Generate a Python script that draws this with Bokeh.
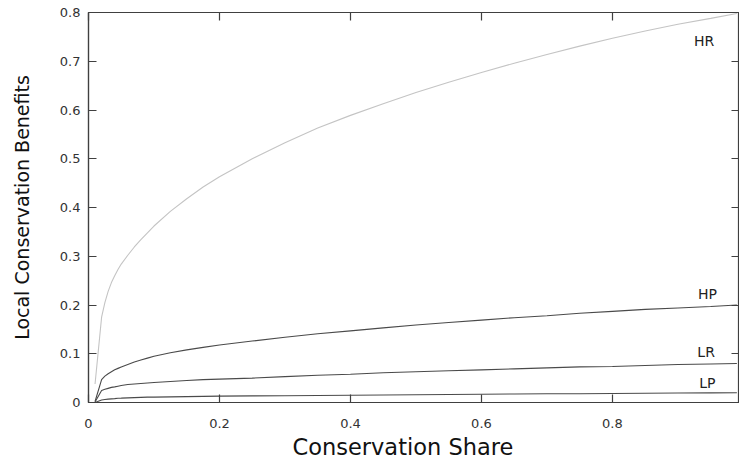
from bokeh.plotting import figure
from bokeh.models import Range1d, LinearAxis, FixedTicker, Label, Title
from bokeh.embed import file_html
from bokeh.resources import INLINE

# Data
share = [0.01, 0.02, 0.025, 0.03, 0.035, 0.04, 0.045, 0.05, 0.06, 0.07, 0.08, 0.09,
         0.1, 0.125, 0.15, 0.175, 0.2, 0.25, 0.3, 0.35, 0.4, 0.45, 0.5, 0.55, 0.6,
         0.65, 0.7, 0.75, 0.8, 0.85, 0.9, 0.95, 0.99]
hr = [0.038, 0.175, 0.205, 0.228, 0.246, 0.260, 0.273, 0.284, 0.302, 0.319, 0.334,
      0.348, 0.362, 0.392, 0.418, 0.442, 0.463, 0.500, 0.533, 0.563, 0.589, 0.613,
      0.636, 0.657, 0.677, 0.696, 0.714, 0.731, 0.747, 0.762, 0.776, 0.788, 0.798]
hp = [0.002, 0.047, 0.054, 0.059, 0.063, 0.067, 0.070, 0.073, 0.078, 0.083, 0.087,
      0.091, 0.095, 0.102, 0.108, 0.113, 0.118, 0.126, 0.134, 0.141, 0.147, 0.153,
      0.159, 0.164, 0.169, 0.174, 0.178, 0.183, 0.187, 0.191, 0.194, 0.197, 0.200]
lr = [0.001, 0.0245, 0.027, 0.029, 0.031, 0.032, 0.0335, 0.035, 0.037, 0.038, 0.039,
      0.040, 0.041, 0.043, 0.045, 0.047, 0.048, 0.050, 0.053, 0.056, 0.058, 0.061,
      0.063, 0.065, 0.067, 0.069, 0.071, 0.073, 0.074, 0.076, 0.078, 0.079, 0.080]
lp = [0.000, 0.005, 0.006, 0.007, 0.0075, 0.008, 0.0088, 0.009, 0.0095, 0.010, 0.0105,
      0.011, 0.011, 0.0115, 0.012, 0.0125, 0.013, 0.0135, 0.014, 0.0145, 0.015, 0.0155,
      0.016, 0.0165, 0.017, 0.0175, 0.018, 0.018, 0.0185, 0.019, 0.0195, 0.0198, 0.020]

series_names = ["HR", "HP", "LR", "LP"]
series_values = [hr, hp, lr, lp]
series_colors = ["#c4c4c4", "#4a4a4a", "#4a4a4a", "#4a4a4a"]
label_x = [0.94, 0.945, 0.943, 0.945]
label_y = [0.742, 0.222, 0.103, 0.041]

x_ticks = [0, 0.2, 0.4, 0.6, 0.8]
x_tick_labels = ["0", "0.2", "0.4", "0.6", "0.8"]
y_ticks = [0, 0.1, 0.2, 0.3, 0.4, 0.5, 0.6, 0.7, 0.8]
y_tick_labels = ["0", "0.1", "0.2", "0.3", "0.4", "0.5", "0.6", "0.7", "0.8"]
x_title = "Conservation Share"
y_title = "Local Conservation Benefits"

FONT = "DejaVu Sans"
AXC = "#404040"

p = figure(width=739, height=463, output_backend="svg", toolbar_location=None,
           x_range=Range1d(0, 0.994), y_range=Range1d(0, 0.8),
           min_border_left=88, min_border_right=0, min_border_top=12, min_border_bottom=61,
           y_axis_label=y_title)
p.grid.visible = False
p.outline_line_color = AXC
p.outline_line_width = 1.2
p.background_fill_color = "white"
p.border_fill_color = "white"

for name, vals, col in zip(series_names, series_values, series_colors):
    p.line(share, vals, line_color=col, line_width=1.1)

for name, lx, ly in zip(series_names, label_x, label_y):
    p.add_layout(Label(x=lx, y=ly, text=name, text_font=FONT, text_font_size="14px",
                       text_color="#222222", text_align="center", text_baseline="middle"))

def style(ax, ticks, labels, show_labels=True):
    ax.ticker = FixedTicker(ticks=ticks)
    ax.major_tick_in = 8
    ax.major_tick_out = 0
    ax.minor_tick_line_color = None
    ax.axis_line_color = AXC
    ax.axis_line_width = 1.2
    ax.major_tick_line_color = AXC
    ax.major_tick_line_width = 1.2
    ax.major_label_text_font = FONT
    ax.major_label_text_color = "#333333"
    ax.major_label_text_font_size = "13px"
    if show_labels:
        ax.major_label_overrides = {t: l for t, l in zip(ticks, labels)}
    else:
        ax.major_label_overrides = {t: "" for t in ticks}
        ax.major_label_standoff = 0

style(p.xaxis[0], x_ticks, x_tick_labels)
style(p.yaxis[0], y_ticks, y_tick_labels)
p.xaxis[0].major_label_standoff = 16
p.yaxis[0].major_label_standoff = 8
p.yaxis[0].axis_label_text_font = FONT
p.yaxis[0].axis_label_text_font_size = "19px"
p.yaxis[0].axis_label_text_font_style = "normal"
p.yaxis[0].axis_label_text_color = "#111111"
p.yaxis[0].axis_label_standoff = 24

# x-axis title, set a little left of the frame centre as in the reference
p.add_layout(Title(text=x_title, align="left", offset=204, standoff=2,
                   text_font=FONT, text_font_size="22.5px", text_font_style="normal",
                   text_color="#111111"), "below")

top = LinearAxis()
style(top, x_ticks, x_tick_labels, show_labels=False)
p.add_layout(top, "above")
right = LinearAxis()
style(right, y_ticks, y_tick_labels, show_labels=False)
p.add_layout(right, "right")

open("out.html", "w").write(file_html(p, INLINE))
